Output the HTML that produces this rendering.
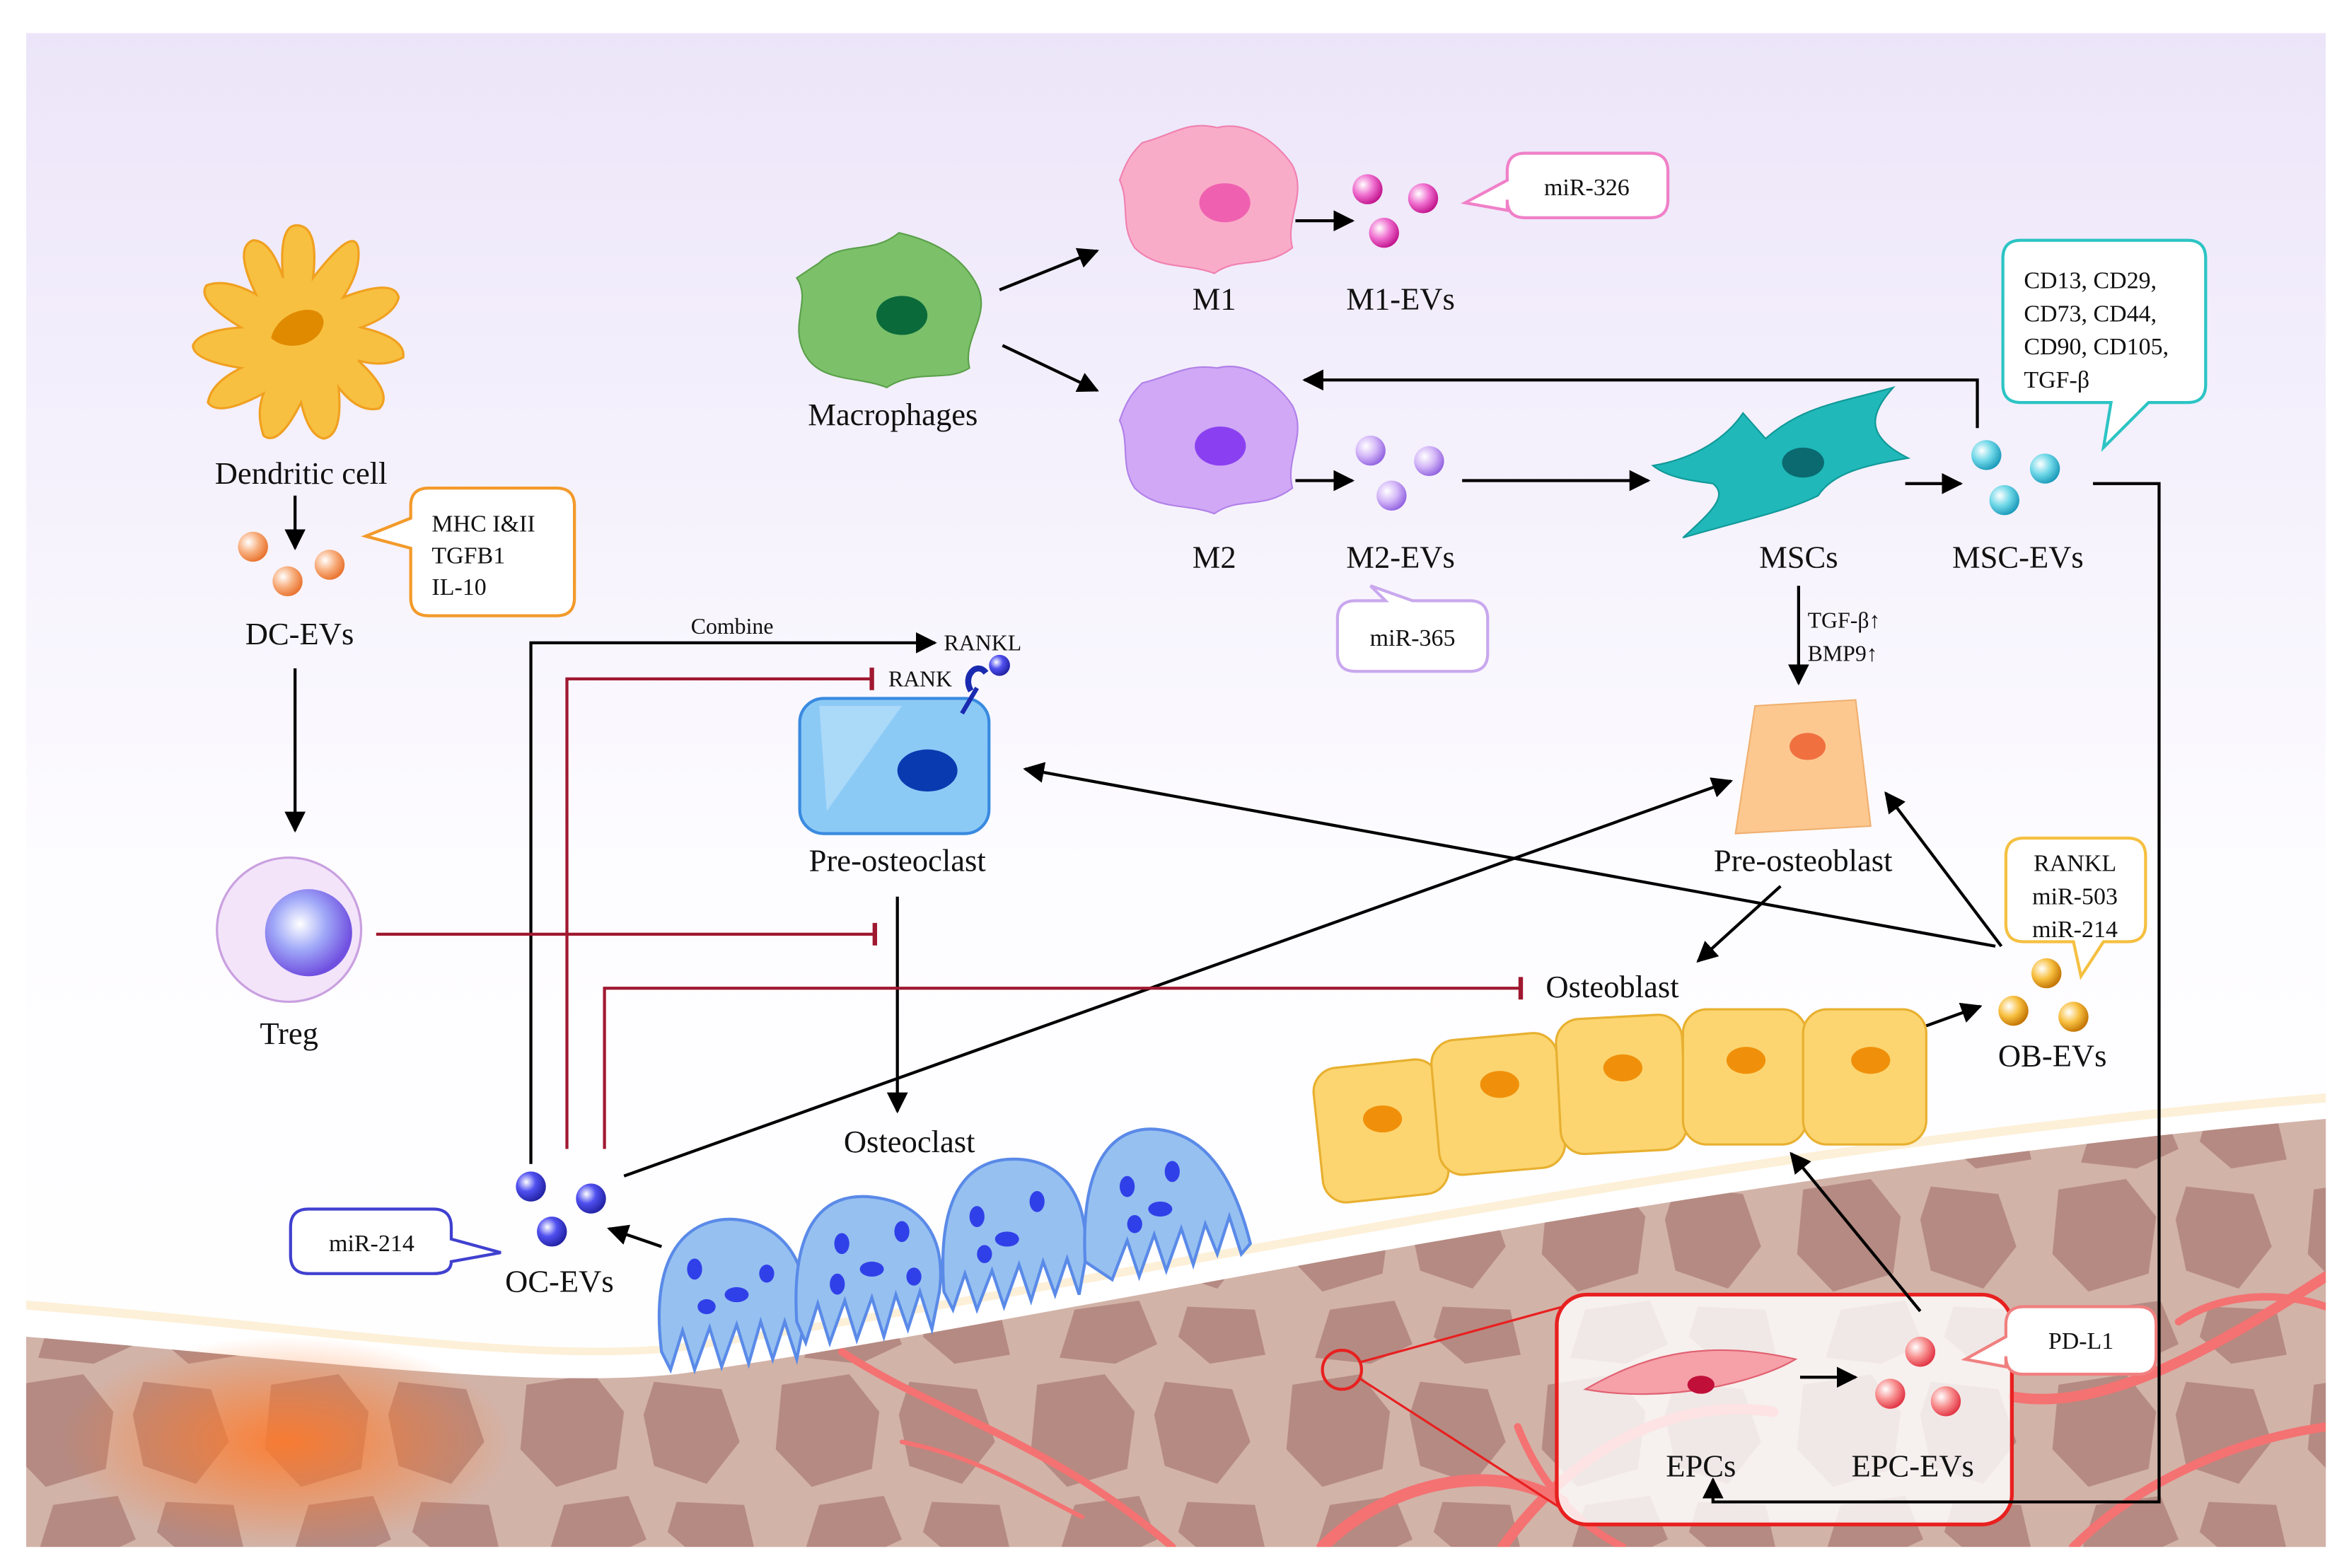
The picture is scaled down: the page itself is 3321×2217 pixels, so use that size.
<!DOCTYPE html>
<html><head><meta charset="utf-8"><style>
html,body{margin:0;padding:0;background:#fff;}
svg{display:block;}
text{font-family:"Liberation Serif",serif;fill:#111;}
</style></head><body>
<svg width="3321" height="2217" viewBox="0 0 1563 1044" xmlns="http://www.w3.org/2000/svg">
<defs>
<linearGradient id="bg" x1="0" y1="0" x2="0" y2="1">
<stop offset="0" stop-color="#ece5f9"/><stop offset="0.55" stop-color="#fdfcff"/><stop offset="1" stop-color="#fff"/>
</linearGradient>
<pattern id="spots" width="170" height="130" patternUnits="userSpaceOnUse">
<path d="M10,12 L55,5 L75,30 L70,68 L30,80 L6,55 Z" fill="#b58a82"/>
<path d="M95,10 L140,15 L152,50 L130,78 L95,66 L88,32 Z" fill="#b58a82"/>
<path d="M35,92 L78,86 L90,115 L62,128 L25,124 Z" fill="#b58a82"/>
<path d="M110,90 L155,92 L162,122 L125,128 L104,110 Z" fill="#b58a82"/>
</pattern>
<radialGradient id="glow" cx="0.5" cy="0.5" r="0.5">
<stop offset="0" stop-color="#ff7a2a" stop-opacity="0.9"/><stop offset="1" stop-color="#ff7a2a" stop-opacity="0"/>
</radialGradient>
<radialGradient id="evO" cx="0.35" cy="0.35" r="0.7"><stop offset="0" stop-color="#fff"/><stop offset="0.5" stop-color="#f8b080"/><stop offset="1" stop-color="#e8702a"/></radialGradient>
<radialGradient id="evP" cx="0.35" cy="0.35" r="0.7"><stop offset="0" stop-color="#fff"/><stop offset="0.5" stop-color="#f070d0"/><stop offset="1" stop-color="#c0108a"/></radialGradient>
<radialGradient id="evV" cx="0.35" cy="0.35" r="0.7"><stop offset="0" stop-color="#fff"/><stop offset="0.5" stop-color="#d4b8f8"/><stop offset="1" stop-color="#9060e0"/></radialGradient>
<radialGradient id="evT" cx="0.35" cy="0.35" r="0.7"><stop offset="0" stop-color="#fff"/><stop offset="0.5" stop-color="#70d8e8"/><stop offset="1" stop-color="#1898b8"/></radialGradient>
<radialGradient id="evY" cx="0.35" cy="0.35" r="0.7"><stop offset="0" stop-color="#fff"/><stop offset="0.5" stop-color="#f8c040"/><stop offset="1" stop-color="#c07000"/></radialGradient>
<radialGradient id="evB" cx="0.35" cy="0.35" r="0.7"><stop offset="0" stop-color="#fff"/><stop offset="0.45" stop-color="#5050f0"/><stop offset="1" stop-color="#2020a0"/></radialGradient>
<radialGradient id="evR" cx="0.35" cy="0.35" r="0.7"><stop offset="0" stop-color="#fff"/><stop offset="0.5" stop-color="#f89090"/><stop offset="1" stop-color="#e03040"/></radialGradient>
<radialGradient id="treg" cx="0.4" cy="0.4" r="0.6"><stop offset="0" stop-color="#fff"/><stop offset="0.5" stop-color="#a0a8f8"/><stop offset="1" stop-color="#7050e0"/></radialGradient>
<marker id="ar" viewBox="0 0 10 10" refX="9" refY="5" markerWidth="7" markerHeight="7" orient="auto"><path d="M0,0 L10,5 L0,10 Z" fill="#000"/></marker>
<marker id="bar" viewBox="0 0 4 10" refX="2" refY="5" markerWidth="3" markerHeight="9" orient="auto"><rect x="1" y="0" width="2" height="10" fill="#a01830"/></marker>
<clipPath id="boneclip"><path d="M17,890 C200,905 350,925 450,915 C700,880 1100,785 1548,745 L1548,1030 L17,1030 Z"/></clipPath>
</defs>
<rect x="0" y="0" width="1563" height="1044" fill="#fff"/>
<rect x="17" y="22" width="1531" height="1008" fill="url(#bg)"/>
<path d="M17,866 C200,880 350,905 450,895 C700,860 1100,765 1548,728 L1548,1030 L17,1030 Z" fill="#fdf0d8"/>
<path d="M17,872 C200,886 350,910 450,900 C700,866 1100,771 1548,734 L1548,1030 L17,1030 Z" fill="#fff"/>
<path d="M17,890 C200,905 350,925 450,915 C700,880 1100,785 1548,745 L1548,1030 L17,1030 Z" fill="#d2b3a8"/>
<rect x="17" y="700" width="1531" height="330" fill="url(#spots)" clip-path="url(#boneclip)"/>
<ellipse cx="190" cy="960" rx="150" ry="70" fill="url(#glow)"/>
<g fill="none" stroke="#f47272" stroke-linecap="round" clip-path="url(#boneclip)">
<path d="M560,900 C620,940 700,960 780,1030" stroke-width="5"/>
<path d="M600,960 C650,970 680,990 720,1010" stroke-width="3"/>
<path d="M880,1030 C920,990 990,970 1040,1000" stroke-width="8"/>
<path d="M1000,1030 C1050,960 1120,930 1180,940" stroke-width="7"/>
<path d="M1340,930 C1400,940 1470,900 1548,850" stroke-width="7"/>
<path d="M1380,1030 C1420,990 1480,960 1548,950" stroke-width="6"/>
<path d="M1450,880 C1480,860 1520,860 1548,870" stroke-width="5"/>
<path d="M1010,950 C1030,1000 1060,1020 1080,1030" stroke-width="5"/>
</g>
<circle cx="893" cy="912" r="13" fill="none" stroke="#e82020" stroke-width="2"/>
<path d="M905,907 L1040,870 M905,918 L1040,1005" stroke="#e82020" stroke-width="1.5"/>
<rect x="1036" y="862" width="303" height="153" rx="20" fill="#fff" fill-opacity="0.8" stroke="#e82020" stroke-width="2.5"/>
<path d="M1055,925 C1090,905 1130,890 1195,905 C1170,920 1110,935 1055,925 Z" fill="#f6a0a8" stroke="#e06070"/>
<ellipse cx="1132" cy="922" rx="9" ry="6" fill="#c0103a"/>
<circle cx="1278" cy="900" r="10" fill="url(#evR)"/><circle cx="1258" cy="928" r="10" fill="url(#evR)"/><circle cx="1295" cy="933" r="10" fill="url(#evR)"/>
<text x="1132" y="983" font-size="21" text-anchor="middle">EPCs</text>
<text x="1273" y="983" font-size="21" text-anchor="middle">EPC-EVs</text>
<g stroke="#e8b030" stroke-width="1.5" fill="#fcd570">
<rect x="877" y="708" width="84" height="90" rx="16" transform="rotate(-6 919 753)"/>
<rect x="955" y="690" width="84" height="90" rx="16" transform="rotate(-5 997 735)"/>
<rect x="1037" y="677" width="84" height="90" rx="16" transform="rotate(-3 1079 722)"/>
<rect x="1120" y="672" width="82" height="90" rx="16"/>
<rect x="1200" y="672" width="82" height="90" rx="16"/>
</g>
<g fill="#f0900a"><ellipse cx="920" cy="745" rx="13" ry="9"/><ellipse cx="998" cy="722" rx="13" ry="9"/><ellipse cx="1080" cy="711" rx="13" ry="9"/><ellipse cx="1162" cy="706" rx="13" ry="9"/><ellipse cx="1245" cy="706" rx="13" ry="9"/></g>
<g fill="#96c0f0" stroke="#5a8ae8" stroke-width="2">
<path d="M440,900 C430,820 470,810 490,812 C520,815 540,840 535,880 L530,905 L522,880 L514,905 L506,880 L498,908 L490,882 L480,910 L472,884 L462,912 L454,886 L446,912 Z"/>
<path d="M530,880 C525,800 560,795 580,797 C610,800 630,820 625,860 L620,885 L612,860 L604,885 L596,862 L588,890 L580,864 L570,892 L562,866 L552,894 L544,868 L536,894 Z"/>
<path d="M628,860 C622,780 655,770 680,772 C710,775 725,800 722,840 L718,862 L710,838 L702,862 L694,840 L686,866 L678,842 L668,870 L660,846 L650,872 L642,848 L634,872 Z"/>
<path d="M722,840 C718,760 750,750 770,752 C800,755 820,780 832,828 L826,835 L818,810 L810,835 L802,815 L794,842 L786,818 L776,846 L768,822 L758,850 L750,826 L740,852 Z"/>
</g>
<g fill="#3040e8">
<ellipse cx="462" cy="845" rx="5" ry="7"/><ellipse cx="490" cy="862" rx="8" ry="5"/><ellipse cx="470" cy="870" rx="6" ry="5"/><ellipse cx="510" cy="848" rx="5" ry="6"/>
<ellipse cx="560" cy="828" rx="5" ry="7"/><ellipse cx="580" cy="845" rx="8" ry="5"/><ellipse cx="600" cy="820" rx="5" ry="7"/><ellipse cx="608" cy="850" rx="5" ry="6"/><ellipse cx="557" cy="855" rx="5" ry="7"/>
<ellipse cx="650" cy="810" rx="5" ry="7"/><ellipse cx="670" cy="825" rx="8" ry="5"/><ellipse cx="690" cy="800" rx="5" ry="7"/><ellipse cx="655" cy="835" rx="5" ry="6"/>
<ellipse cx="750" cy="790" rx="5" ry="7"/><ellipse cx="772" cy="805" rx="8" ry="5"/><ellipse cx="780" cy="780" rx="5" ry="7"/><ellipse cx="755" cy="815" rx="5" ry="6"/>
</g>
<g fill="#f8c040" stroke="#f0a020" stroke-width="1.5">
<path d="M197,150 Q212,150 208,185 Q235,150 238,165 Q240,180 228,198 Q262,185 265,198 Q262,210 240,218 Q270,225 268,238 Q255,245 238,240 Q262,262 252,272 Q238,275 225,258 Q228,290 215,292 Q205,290 200,268 Q185,298 175,290 Q170,275 175,262 Q145,278 138,268 Q140,255 160,245 Q128,240 128,230 Q132,220 160,218 Q130,200 137,190 Q150,185 170,196 Q155,165 168,160 Q180,160 188,185 Q185,150 197,150 Z"/>
</g>
<path d="M180,225 C185,205 215,200 215,215 C213,230 190,235 180,225 Z" fill="#e08a00"/>
<text x="200" y="322" font-size="21" text-anchor="middle">Dendritic cell</text>
<circle cx="168" cy="364" r="10" fill="url(#evO)"/><circle cx="191" cy="387" r="10" fill="url(#evO)"/><circle cx="219" cy="376" r="10" fill="url(#evO)"/>
<text x="199" y="429" font-size="21" text-anchor="middle">DC-EVs</text>
<circle cx="192" cy="619" r="48" fill="#f3e4fa" stroke="#c9a0e0" stroke-width="1.5"/>
<circle cx="205" cy="621" r="29" fill="url(#treg)"/>
<text x="192" y="695" font-size="21" text-anchor="middle">Treg</text>
<path d="M545,175 C560,160 580,170 598,155 C620,160 640,170 650,190 C660,210 640,225 645,245 C630,255 610,245 590,258 C570,250 545,255 535,235 C525,215 540,200 530,185 Z" fill="#7cc06a" stroke="#5aa04a"/>
<ellipse cx="600" cy="210" rx="17" ry="13" fill="#0a6a3a"/>
<text x="594" y="283" font-size="21" text-anchor="middle">Macrophages</text>
<path d="M760,95 C780,90 790,80 810,85 C830,80 850,95 860,110 C870,130 855,145 860,165 C840,180 825,170 808,182 C790,175 770,180 755,165 C745,150 752,135 745,120 C750,105 755,100 760,95 Z" fill="#f9acc8" stroke="#f080b0"/>
<ellipse cx="815" cy="135" rx="17" ry="13" fill="#f060b0"/>
<text x="808" y="206" font-size="21" text-anchor="middle">M1</text>
<circle cx="910" cy="126" r="10" fill="url(#evP)"/><circle cx="947" cy="132" r="10" fill="url(#evP)"/><circle cx="921" cy="155" r="10" fill="url(#evP)"/>
<text x="932" y="206" font-size="21" text-anchor="middle">M1-EVs</text>
<path d="M760,255 C780,250 790,242 810,245 C830,240 850,255 860,270 C870,290 855,305 860,325 C840,340 825,330 808,342 C790,335 770,340 755,325 C745,310 752,295 745,280 C750,265 755,260 760,255 Z" fill="#d0a8f6" stroke="#b080e8"/>
<ellipse cx="812" cy="297" rx="17" ry="13" fill="#8a40f0"/>
<text x="808" y="378" font-size="21" text-anchor="middle">M2</text>
<circle cx="912" cy="300" r="10" fill="url(#evV)"/><circle cx="951" cy="307" r="10" fill="url(#evV)"/><circle cx="926" cy="330" r="10" fill="url(#evV)"/>
<text x="932" y="378" font-size="21" text-anchor="middle">M2-EVs</text>
<path d="M1100,310 C1130,305 1150,290 1160,275 L1175,292 C1200,270 1225,268 1260,258 C1245,275 1240,290 1270,305 C1240,310 1220,315 1210,330 C1190,340 1165,345 1120,358 C1140,340 1150,330 1140,322 C1125,320 1110,318 1100,310 Z" fill="#20b8b8" stroke="#109898"/>
<ellipse cx="1200" cy="308" rx="14" ry="10" fill="#0a6a70"/>
<text x="1197" y="378" font-size="21" text-anchor="middle">MSCs</text>
<circle cx="1322" cy="303" r="10" fill="url(#evT)"/><circle cx="1361" cy="312" r="10" fill="url(#evT)"/><circle cx="1334" cy="333" r="10" fill="url(#evT)"/>
<text x="1343" y="378" font-size="21" text-anchor="middle">MSC-EVs</text>
<rect x="532" y="465" width="126" height="90" rx="16" fill="#8ccaf6" stroke="#3a8ae0" stroke-width="2"/>
<path d="M545,470 L600,470 L550,540 Z" fill="#b8dffa" opacity="0.7"/>
<ellipse cx="617" cy="513" rx="20" ry="14" fill="#0a3ab0"/>
<path d="M646,460 C640,450 650,440 656,448" fill="none" stroke="#1a2ab0" stroke-width="4"/>
<path d="M650,458 L640,475" stroke="#1a2ab0" stroke-width="3"/>
<circle cx="665" cy="443" r="7" fill="url(#evB)"/>
<text x="597" y="580" font-size="21" text-anchor="middle">Pre-osteoclast</text>
<path d="M1168,470 L1235,466 L1245,550 L1155,555 Z" fill="#fcc890" stroke="#f0b070"/>
<ellipse cx="1203" cy="497" rx="12" ry="9" fill="#f07040"/>
<text x="1200" y="580" font-size="21" text-anchor="middle">Pre-osteoblast</text>
<text x="1073" y="664" font-size="21" text-anchor="middle">Osteoblast</text>
<circle cx="1362" cy="648" r="10" fill="url(#evY)"/><circle cx="1340" cy="673" r="10" fill="url(#evY)"/><circle cx="1380" cy="677" r="10" fill="url(#evY)"/>
<text x="1366" y="710" font-size="21" text-anchor="middle">OB-EVs</text>
<text x="605" y="767" font-size="21" text-anchor="middle">Osteoclast</text>
<circle cx="353" cy="790" r="10" fill="url(#evB)"/><circle cx="393" cy="798" r="10" fill="url(#evB)"/><circle cx="367" cy="820" r="10" fill="url(#evB)"/>
<text x="372" y="860" font-size="21" text-anchor="middle">OC-EVs</text>
<g stroke="#000" stroke-width="2" fill="none" marker-end="url(#ar)">
<path d="M665,193 L730,167"/><path d="M667,230 L730,260"/>
<path d="M862,147 L900,147"/><path d="M862,320 L900,320"/>
<path d="M973,320 L1097,320"/><path d="M1268,322 L1305,322"/>
<path d="M1316,285 L1316,253 L868,253"/>
<path d="M1393,322 L1437,322 L1437,1000 L1140,1000 L1140,985"/>
<path d="M1197,390 L1197,455"/>
<path d="M196,330 L196,365"/><path d="M196,445 L196,553"/>
<path d="M597,597 L597,740"/>
<path d="M353,775 L353,428 L622,428"/>
<path d="M415,783 L1152,520"/>
<path d="M440,830 L405,818"/>
<path d="M1328,630 L682,512"/>
<path d="M1332,630 L1255,528"/>
<path d="M1185,590 L1130,640"/>
<path d="M1282,683 L1318,670"/>
<path d="M1278,873 L1192,768"/>
<path d="M1198,917 L1235,917"/>
</g>
<g stroke="#a01830" stroke-width="2" fill="none" marker-end="url(#bar)">
<path d="M250,622 L582,622"/>
<path d="M377,765 L377,452 L580,452"/>
<path d="M402,765 L402,658 L1012,658"/>
</g>
<text x="487" y="422" font-size="15" text-anchor="middle">Combine</text>
<text x="628" y="433" font-size="15">RANKL</text>
<text x="591" y="457" font-size="15">RANK</text>
<text x="1203" y="418" font-size="15">TGF-β↑</text>
<text x="1203" y="440" font-size="15">BMP9↑</text>
<g stroke-width="2" fill="#fff">
<path d="M285,325 L370,325 Q382,325 382,337 L382,398 Q382,410 370,410 L285,410 Q273,410 273,398 L273,365 L243,357 L273,345 L273,337 Q273,325 285,325 Z" stroke="#f39a2a"/>
<path d="M1015,102 L1098,102 Q1110,102 1110,114 L1110,133 Q1110,145 1098,145 L1015,145 Q1003,145 1003,133 L1003,140 L975,135 L1003,120 L1003,114 Q1003,102 1015,102 Z" stroke="#f080c8"/>
<path d="M1345,160 L1456,160 Q1468,160 1468,172 L1468,256 Q1468,268 1456,268 L1430,268 L1400,298 L1405,268 L1345,268 Q1333,268 1333,256 L1333,172 Q1333,160 1345,160 Z" stroke="#2cc4c4"/>
<path d="M902,400 L922,400 L912,390 L940,400 L978,400 Q990,400 990,412 L990,435 Q990,447 978,447 L902,447 Q890,447 890,435 L890,412 Q890,400 902,400 Z" stroke="#c9a8ee"/>
<path d="M1347,558 L1416,558 Q1428,558 1428,570 L1428,615 Q1428,627 1416,627 L1400,627 L1385,650 L1380,627 L1347,627 Q1335,627 1335,615 L1335,570 Q1335,558 1347,558 Z" stroke="#f5c040"/>
<path d="M205,805 L288,805 Q300,805 300,817 L300,825 L333,834 L300,840 Q300,848 288,848 L205,848 Q193,848 193,836 L193,817 Q193,805 205,805 Z" stroke="#4040d0"/>
<path d="M1347,870 L1423,870 Q1435,870 1435,882 L1435,903 Q1435,915 1423,915 L1347,915 Q1335,915 1335,903 L1335,910 L1308,905 L1335,890 L1335,882 Q1335,870 1347,870 Z" stroke="#f08080"/>
</g>
<g font-size="16">
<text x="287" y="354">MHC I&amp;II</text><text x="287" y="375">TGFB1</text><text x="287" y="396">IL-10</text>
<text x="1056" y="130" text-anchor="middle">miR-326</text>
<text x="1347" y="192">CD13, CD29,</text><text x="1347" y="214">CD73, CD44,</text><text x="1347" y="236">CD90, CD105,</text><text x="1347" y="258">TGF-β</text>
<text x="940" y="430" text-anchor="middle">miR-365</text>
<text x="1381" y="580" text-anchor="middle">RANKL</text><text x="1381" y="602" text-anchor="middle">miR-503</text><text x="1381" y="624" text-anchor="middle">miR-214</text>
<text x="247" y="833" text-anchor="middle">miR-214</text>
<text x="1385" y="898" text-anchor="middle">PD-L1</text>
</g>
</svg>
</body></html>
